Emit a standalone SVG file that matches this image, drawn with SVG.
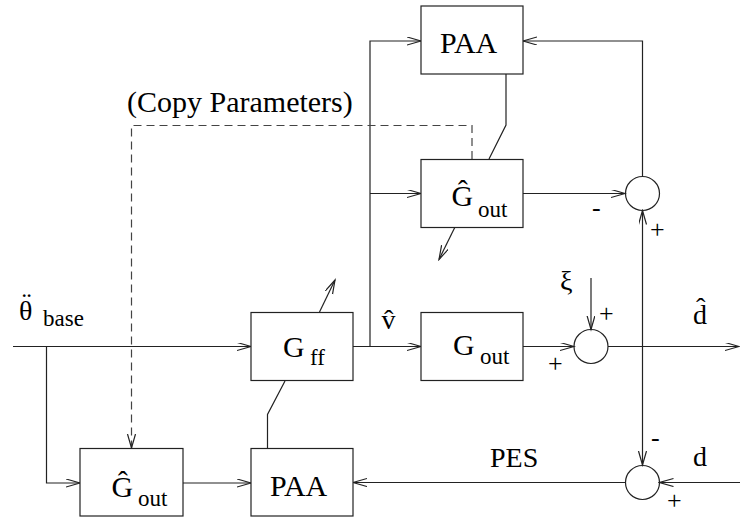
<svg xmlns="http://www.w3.org/2000/svg" width="740" height="520" viewBox="0 0 740 520">
<defs>
<style>
.box{fill:#fff;stroke:#222;stroke-width:1.2}
.ln{fill:none;stroke:#222;stroke-width:1.2}
.dash{fill:none;stroke:#444;stroke-width:1.2;stroke-dasharray:8,5}
.t{font-family:"Liberation Serif","Times New Roman",serif;font-size:30px;fill:#000}
.s{font-size:23px}
.h{font-size:26px}
.m{font-size:28px}
</style>
<marker id="ah" markerUnits="userSpaceOnUse" markerWidth="16" markerHeight="10" refX="14" refY="4" orient="auto">
<path d="M0,0 L14,4 L0,8" fill="none" stroke="#222" stroke-width="1.2"/>
</marker>
</defs>
<rect width="740" height="520" fill="#fff"/>

<g id="connectors">
<path class="ln" d="M13,346.5 L251,346.5" marker-end="url(#ah)"/>
<path class="ln" d="M46.5,346.5 L46.5,483 L80,483" marker-end="url(#ah)"/>
<path class="ln" d="M183,483 L251,483" marker-end="url(#ah)"/>
<path class="ln" d="M353,346.5 L421,346.5" marker-end="url(#ah)"/>
<path class="ln" d="M370,346.5 L370,41 L421,41" marker-end="url(#ah)"/>
<path class="ln" d="M370,193.5 L421,193.5" marker-end="url(#ah)"/>
<path class="ln" d="M523,193.5 L625,193.5" marker-end="url(#ah)"/>
<path class="ln" d="M642.5,176.5 L642.5,41 L523,41" marker-end="url(#ah)"/>
<path class="ln" d="M506,74 L506,125 L489,159"/>
<path class="ln" d="M455,227 L439,259.5" marker-end="url(#ah)"/>
<path class="ln" d="M319.5,312 L335,280" marker-end="url(#ah)"/>
<path class="ln" d="M267.5,448 L267.5,414.5 L285,381"/>
<path class="ln" d="M523,346.5 L574,346.5" marker-end="url(#ah)"/>
<path class="ln" d="M591,278 L591,329.5" marker-end="url(#ah)"/>
<path class="ln" d="M608,346.5 L739,346.5" marker-end="url(#ah)"/>
<path class="ln" d="M642.5,346.5 L642.5,210.5" marker-end="url(#ah)"/>
<path class="ln" d="M642.5,346.5 L642.5,465" marker-end="url(#ah)"/>
<path class="ln" d="M740,482.5 L659.5,482.5" marker-end="url(#ah)"/>
<path class="ln" d="M625.5,482.5 L353,482.5" marker-end="url(#ah)"/>
<path class="dash" d="M472,159 L472,125.5 L131.5,125.5 L131.5,448" marker-end="url(#ah)"/>
</g>

<g id="paa-top">
<rect class="box" x="421" y="6" width="102" height="68"/>
<text class="t" x="440" y="53">PAA</text>
</g>
<g id="ghat-mid">
<rect class="box" x="421" y="159.5" width="102" height="68"/>
<text class="t"><tspan x="451.5" y="205.5">Ĝ</tspan><tspan class="s" x="478" y="216.5">out</tspan></text>
</g>
<g id="gff">
<rect class="box" x="251" y="312.5" width="102" height="68"/>
<text class="t"><tspan x="283" y="356.5">G</tspan><tspan class="s" x="310" y="365">ff</tspan></text>
</g>
<g id="gout">
<rect class="box" x="421" y="312.5" width="102" height="68"/>
<text class="t"><tspan x="453" y="355">G</tspan><tspan class="s" x="480" y="363.5">out</tspan></text>
</g>
<g id="ghat-low">
<rect class="box" x="80" y="448.5" width="103" height="67.5"/>
<text class="t"><tspan x="111.5" y="496.5">Ĝ</tspan><tspan class="s" x="138" y="505.5">out</tspan></text>
</g>
<g id="paa-low">
<rect class="box" x="251" y="448.5" width="102" height="67.5"/>
<text class="t" x="270" y="496">PAA</text>
</g>
<g id="sum-top">
<circle class="ln" cx="642.5" cy="193.5" r="17"/>
<text class="t h" x="592" y="216">-</text>
<text class="t h" x="650" y="238">+</text>
</g>
<g id="sum-mid">
<circle class="ln" cx="591" cy="346.5" r="17"/>
<text class="t h" x="548" y="372">+</text>
<text class="t h" x="599" y="322">+</text>
</g>
<g id="sum-low">
<circle class="ln" cx="642.5" cy="482.5" r="17"/>
<text class="t h" x="651" y="446">-</text>
<text class="t h" x="667" y="509">+</text>
</g>
<g id="labels">
<text class="t" x="127" y="111.5">(Copy Parameters)</text>
<text class="t"><tspan class="m" x="22" y="312">¨</tspan><tspan class="m" x="19" y="319.5">θ</tspan><tspan class="s" x="43" y="326">base</tspan></text>
<text class="t m" x="381.5" y="328.5">v̂</text>
<text class="t m" x="560" y="290">ξ</text>
<text class="t m" x="693" y="324">d̂</text>
<text class="t m" x="490" y="466.5">PES</text>
<text class="t m" x="693" y="466">d</text>
</g>
</svg>
